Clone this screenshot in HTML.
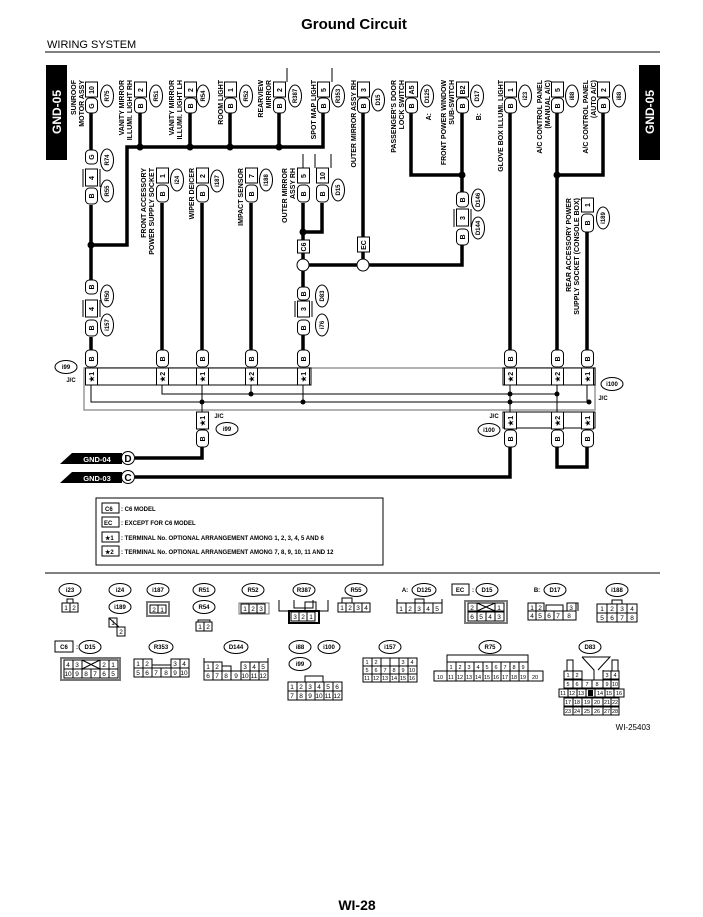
<!DOCTYPE html>
<html><head><meta charset="utf-8"><style>
html,body{margin:0;padding:0;background:#fff}
svg{display:block}
text{font-family:"Liberation Sans",Arial,sans-serif;fill:#000}
.t{font-size:7px;font-weight:bold}
.s{font-size:6px}
.c{font-size:6.5px;text-anchor:middle}
.w{fill:none;stroke:#000;stroke-width:3.5}
.l{fill:none;stroke:#000;stroke-width:1}
.p{fill:#fff;stroke:#000;stroke-width:1}
.g{fill:#fff;stroke:#777;stroke-width:2}
</style></head><body>
<svg width="703" height="917" viewBox="0 0 703 917" xmlns="http://www.w3.org/2000/svg">
<text x="354" y="29" style="font-size:15px;font-weight:bold" text-anchor="middle">Ground Circuit</text>
<text x="47" y="48" style="font-size:11px">WIRING SYSTEM</text>
<line x1="45" y1="52" x2="660" y2="52" class="l"/>
<rect x="46" y="65" width="21" height="95" fill="#000"/>
<text transform="translate(61,112) rotate(-90)" text-anchor="middle" style="font-size:12px;font-weight:bold;fill:#fff">GND-05</text>
<rect x="639" y="65" width="21" height="95" fill="#000"/>
<text transform="translate(654,112) rotate(-90)" text-anchor="middle" style="font-size:12px;font-weight:bold;fill:#fff">GND-05</text>

<path class="w" d="M91,113V150M91,205V280M91,337V352M140,113V147M190,113V147M230,113V147M279,113V147M323,113V147H127V245H91"/>
<path class="w" d="M162,203V352M202,203V352M251,203V352M303,203V240M322,203V232H303M303,253V259M303,271V287M303,335V352"/>
<path class="w" d="M363,113V237M363,252V259M309,265H357M369,265H462V245M411,113V175H462M462,113V192"/>
<path class="w" d="M510,113V352M557,113V352M603,113V175H557M587,232V352"/>
<path class="w" d="M202,447V458H135M510,447V477H135M557,447V467H587V447"/>
<g fill="#000"><circle cx="140" cy="147" r="3.5"/><circle cx="190" cy="147" r="3.5"/><circle cx="230" cy="147" r="3.5"/><circle cx="279" cy="147" r="3.5"/><circle cx="91" cy="245" r="3.5"/><circle cx="303" cy="232" r="3.5"/><circle cx="462" cy="175" r="3.5"/><circle cx="557" cy="175" r="3.5"/></g>
<circle cx="303" cy="265" r="6" class="p"/><circle cx="363" cy="265" r="6" class="p"/>

<g class="p">
<rect x="85.5" y="82" width="12" height="15"/><rect x="134.5" y="82" width="12" height="15"/><rect x="184.5" y="82" width="12" height="15"/><rect x="224.5" y="82" width="12" height="15"/><rect x="273.5" y="82" width="12" height="15"/><rect x="317.5" y="82" width="12" height="15"/><rect x="357.5" y="82" width="12" height="15"/><rect x="405.5" y="82" width="12" height="15"/><rect x="456.5" y="82" width="12" height="15"/><rect x="504.5" y="82" width="12" height="15"/><rect x="551.5" y="82" width="12" height="15"/><rect x="597.5" y="82" width="12" height="15"/>
<rect x="85.5" y="98" width="12" height="15" rx="4"/><rect x="134.5" y="98" width="12" height="15" rx="4"/><rect x="184.5" y="98" width="12" height="15" rx="4"/><rect x="224.5" y="98" width="12" height="15" rx="4"/><rect x="273.5" y="98" width="12" height="15" rx="4"/><rect x="317.5" y="98" width="12" height="15" rx="4"/><rect x="357.5" y="98" width="12" height="15" rx="4"/><rect x="405.5" y="98" width="12" height="15" rx="4"/><rect x="456.5" y="98" width="12" height="15" rx="4"/><rect x="504.5" y="98" width="12" height="15" rx="4"/><rect x="551.5" y="98" width="12" height="15" rx="4"/><rect x="597.5" y="98" width="12" height="15" rx="4"/>
<rect x="85.5" y="150" width="12" height="14" rx="4"/><rect x="85.5" y="169" width="12" height="17"/><rect x="85.5" y="188" width="12" height="16" rx="4"/>
<rect x="85.5" y="280" width="12" height="14" rx="4"/><rect x="85.5" y="300" width="12" height="17"/><rect x="85.5" y="320" width="12" height="16" rx="4"/>
<rect x="156.5" y="168" width="12" height="15"/><rect x="156.5" y="185" width="12" height="17" rx="4"/>
<rect x="196.5" y="168" width="12" height="15"/><rect x="196.5" y="185" width="12" height="17" rx="4"/>
<rect x="245.5" y="168" width="12" height="15"/><rect x="245.5" y="185" width="12" height="17" rx="4"/>
<rect x="297.5" y="168" width="12" height="15"/><rect x="297.5" y="185" width="12" height="17" rx="4"/>
<rect x="316.5" y="168" width="12" height="15"/><rect x="316.5" y="185" width="12" height="17" rx="4"/>
<rect x="297.5" y="240" width="12" height="13"/><rect x="357.5" y="237" width="12" height="15"/>
<rect x="297.5" y="287" width="12" height="13" rx="4"/><rect x="297.5" y="301" width="12" height="16"/><rect x="297.5" y="320" width="12" height="15" rx="4"/>
<rect x="456.5" y="192" width="12" height="15" rx="4"/><rect x="456.5" y="209" width="12" height="17"/><rect x="456.5" y="229" width="12" height="16" rx="4"/>
<rect x="581.5" y="198" width="12" height="14"/><rect x="581.5" y="214" width="12" height="18" rx="4"/>
<rect x="85.5" y="350" width="12" height="17" rx="4"/><rect x="156.5" y="350" width="12" height="17" rx="4"/><rect x="196.5" y="350" width="12" height="17" rx="4"/><rect x="245.5" y="350" width="12" height="17" rx="4"/><rect x="297.5" y="350" width="12" height="17" rx="4"/><rect x="504.5" y="350" width="12" height="17" rx="4"/><rect x="551.5" y="350" width="12" height="17" rx="4"/><rect x="581.5" y="350" width="12" height="17" rx="4"/>
</g>
<path class="l" d="M83,169V187M100,169V187M83,300V317M100,300V317M295,301V317M312,301V317M454,209V227M471,209V227M287,82V68M332,82V68M315,168V154M331,168V154M303,168V154"/>

<rect x="84" y="368" width="511" height="42" fill="none" stroke="#999" stroke-width="1.5"/>
<rect x="86" y="368" width="225" height="17" class="p"/>
<rect x="503" y="368" width="92" height="17" class="p"/>
<g class="p"><rect x="85.5" y="368" width="12" height="17"/><rect x="156.5" y="368" width="12" height="17"/><rect x="196.5" y="368" width="12" height="17"/><rect x="245.5" y="368" width="12" height="17"/><rect x="297.5" y="368" width="12" height="17"/><rect x="504.5" y="368" width="12" height="17"/><rect x="551.5" y="368" width="12" height="17"/><rect x="581.5" y="368" width="12" height="17"/></g>
<path class="l" d="M91,385V402H589M162,385V394H557M202,385V413M251,385V394M303,385V402M510,385V413M557,385V413M587,385V402"/>
<g fill="#000"><circle cx="251" cy="394" r="2.5"/><circle cx="510" cy="394" r="2.5"/><circle cx="557" cy="394" r="2.5"/><circle cx="202" cy="402" r="2.5"/><circle cx="303" cy="402" r="2.5"/><circle cx="510" cy="402" r="2.5"/><circle cx="589" cy="402" r="2.5"/></g>
<rect x="503" y="412" width="92" height="16" class="p"/>
<g class="p"><rect x="196.5" y="412" width="12" height="17"/><rect x="504.5" y="412" width="12" height="17"/><rect x="551.5" y="412" width="12" height="17"/><rect x="581.5" y="412" width="12" height="17"/>
<rect x="196.5" y="430" width="12" height="17" rx="4"/><rect x="504.5" y="430" width="12" height="17" rx="4"/><rect x="551.5" y="430" width="12" height="17" rx="4"/><rect x="581.5" y="430" width="12" height="17" rx="4"/></g>

<g class="t" text-anchor="middle">
<text transform="translate(94,90) rotate(-90)">10</text><text transform="translate(94,106) rotate(-90)">G</text>
<text transform="translate(143,90) rotate(-90)">2</text><text transform="translate(143,106) rotate(-90)">B</text>
<text transform="translate(193,90) rotate(-90)">2</text><text transform="translate(193,106) rotate(-90)">B</text>
<text transform="translate(233,90) rotate(-90)">1</text><text transform="translate(233,106) rotate(-90)">B</text>
<text transform="translate(282,90) rotate(-90)">2</text><text transform="translate(282,106) rotate(-90)">B</text>
<text transform="translate(326,90) rotate(-90)">5</text><text transform="translate(326,106) rotate(-90)">B</text>
<text transform="translate(366,90) rotate(-90)">3</text><text transform="translate(366,106) rotate(-90)">B</text>
<text transform="translate(414,90) rotate(-90)">A5</text><text transform="translate(414,106) rotate(-90)">B</text>
<text transform="translate(465,90) rotate(-90)">B2</text><text transform="translate(465,106) rotate(-90)">B</text>
<text transform="translate(513,90) rotate(-90)">1</text><text transform="translate(513,106) rotate(-90)">B</text>
<text transform="translate(560,90) rotate(-90)">5</text><text transform="translate(560,106) rotate(-90)">B</text>
<text transform="translate(606,90) rotate(-90)">2</text><text transform="translate(606,106) rotate(-90)">B</text>
<text transform="translate(94,157) rotate(-90)">G</text><text transform="translate(94,178) rotate(-90)">4</text><text transform="translate(94,196) rotate(-90)">B</text>
<text transform="translate(94,287) rotate(-90)">B</text><text transform="translate(94,309) rotate(-90)">4</text><text transform="translate(94,328) rotate(-90)">B</text>
<text transform="translate(165,176) rotate(-90)">1</text><text transform="translate(165,194) rotate(-90)">B</text>
<text transform="translate(205,176) rotate(-90)">2</text><text transform="translate(205,194) rotate(-90)">B</text>
<text transform="translate(254,176) rotate(-90)">7</text><text transform="translate(254,194) rotate(-90)">B</text>
<text transform="translate(306,176) rotate(-90)">5</text><text transform="translate(306,194) rotate(-90)">B</text>
<text transform="translate(325,176) rotate(-90)">10</text><text transform="translate(325,194) rotate(-90)">B</text>
<text transform="translate(306,247) rotate(-90)">C6</text><text transform="translate(366,245) rotate(-90)">EC</text>
<text transform="translate(306,294) rotate(-90)">B</text><text transform="translate(306,309) rotate(-90)">3</text><text transform="translate(306,328) rotate(-90)">B</text>
<text transform="translate(465,200) rotate(-90)">B</text><text transform="translate(465,218) rotate(-90)">3</text><text transform="translate(465,237) rotate(-90)">B</text>
<text transform="translate(590,205) rotate(-90)">1</text><text transform="translate(590,223) rotate(-90)">B</text>
<text transform="translate(94,359) rotate(-90)">B</text><text transform="translate(165,359) rotate(-90)">B</text><text transform="translate(205,359) rotate(-90)">B</text><text transform="translate(254,359) rotate(-90)">B</text><text transform="translate(306,359) rotate(-90)">B</text><text transform="translate(513,359) rotate(-90)">B</text><text transform="translate(560,359) rotate(-90)">B</text><text transform="translate(590,359) rotate(-90)">B</text>
<text transform="translate(94,377) rotate(-90)">★1</text><text transform="translate(165,377) rotate(-90)">★2</text><text transform="translate(205,377) rotate(-90)">★1</text><text transform="translate(254,377) rotate(-90)">★2</text><text transform="translate(306,377) rotate(-90)">★1</text><text transform="translate(513,377) rotate(-90)">★2</text><text transform="translate(560,377) rotate(-90)">★2</text><text transform="translate(590,377) rotate(-90)">★1</text>
<text transform="translate(205,421) rotate(-90)">★1</text><text transform="translate(513,421) rotate(-90)">★1</text><text transform="translate(560,421) rotate(-90)">★2</text><text transform="translate(590,421) rotate(-90)">★1</text>
<text transform="translate(205,439) rotate(-90)">B</text><text transform="translate(513,439) rotate(-90)">B</text><text transform="translate(560,439) rotate(-90)">B</text><text transform="translate(590,439) rotate(-90)">B</text>
</g>

<g class="p">
<ellipse cx="107" cy="96" rx="6.5" ry="11"/><ellipse cx="156" cy="96" rx="6.5" ry="11"/><ellipse cx="203" cy="96" rx="6.5" ry="11"/><ellipse cx="246" cy="96" rx="6.5" ry="11"/><ellipse cx="295" cy="96" rx="6.5" ry="11"/><ellipse cx="338" cy="96" rx="6.5" ry="11"/><ellipse cx="378" cy="100" rx="6.5" ry="11"/><ellipse cx="427" cy="96" rx="6.5" ry="11"/><ellipse cx="477" cy="96" rx="6.5" ry="11"/><ellipse cx="525" cy="96" rx="6.5" ry="11"/><ellipse cx="572" cy="96" rx="6.5" ry="11"/><ellipse cx="619" cy="96" rx="6.5" ry="11"/>
<ellipse cx="107" cy="160" rx="6.5" ry="11"/><ellipse cx="107" cy="191" rx="6.5" ry="11"/><ellipse cx="107" cy="296" rx="6.5" ry="11"/><ellipse cx="107" cy="325" rx="6.5" ry="11"/>
<ellipse cx="177" cy="180" rx="6.5" ry="11"/><ellipse cx="217" cy="181" rx="6.5" ry="11"/><ellipse cx="266" cy="180" rx="6.5" ry="11"/><ellipse cx="338" cy="190" rx="6.5" ry="11"/><ellipse cx="322" cy="296" rx="6.5" ry="11"/><ellipse cx="322" cy="325" rx="6.5" ry="11"/>
<ellipse cx="478" cy="200" rx="6.5" ry="11"/><ellipse cx="478" cy="228" rx="6.5" ry="11"/><ellipse cx="603" cy="218" rx="6.5" ry="11"/>
<ellipse cx="66" cy="367" rx="11" ry="6.5"/><ellipse cx="612" cy="384" rx="11" ry="6.5"/><ellipse cx="227" cy="429" rx="11" ry="6.5"/><ellipse cx="489" cy="430" rx="11" ry="6.5"/>
</g>
<g class="s" text-anchor="middle" font-weight="bold">
<text transform="translate(109,96) rotate(-90)">R75</text><text transform="translate(158,96) rotate(-90)">R51</text><text transform="translate(205,96) rotate(-90)">R54</text><text transform="translate(248,96) rotate(-90)">R52</text><text transform="translate(297,96) rotate(-90)">R387</text><text transform="translate(340,96) rotate(-90)">R353</text><text transform="translate(380,100) rotate(-90)">D15</text><text transform="translate(429,96) rotate(-90)">D125</text><text transform="translate(479,96) rotate(-90)">D17</text><text transform="translate(527,96) rotate(-90)">i23</text><text transform="translate(574,96) rotate(-90)">i88</text><text transform="translate(621,96) rotate(-90)">i88</text>
<text transform="translate(109,160) rotate(-90)">R74</text><text transform="translate(109,191) rotate(-90)">R55</text><text transform="translate(109,296) rotate(-90)">R50</text><text transform="translate(109,325) rotate(-90)">i157</text>
<text transform="translate(179,180) rotate(-90)">i24</text><text transform="translate(219,181) rotate(-90)">i187</text><text transform="translate(268,180) rotate(-90)">i188</text><text transform="translate(340,190) rotate(-90)">D15</text><text transform="translate(324,296) rotate(-90)">D83</text><text transform="translate(324,325) rotate(-90)">i76</text>
<text transform="translate(480,200) rotate(-90)">D146</text><text transform="translate(480,228) rotate(-90)">D144</text><text transform="translate(605,218) rotate(-90)">i189</text>
<text x="66" y="369">i99</text><text x="612" y="386">i100</text><text x="227" y="431">i99</text><text x="489" y="432">i100</text>
<text x="71" y="382">J/C</text><text x="603" y="400">J/C</text><text x="219" y="418">J/C</text><text x="494" y="418">J/C</text>
</g>

<g class="t" text-anchor="end">
<text transform="translate(76,80) rotate(-90)">SUNROOF</text><text transform="translate(84,80) rotate(-90)">MOTOR ASSY</text>
<text transform="translate(124,80) rotate(-90)">VANITY MIRROR</text><text transform="translate(132,80) rotate(-90)">ILLUMI. LIGHT RH</text>
<text transform="translate(174,80) rotate(-90)">VANITY MIRROR</text><text transform="translate(182,80) rotate(-90)">ILLUMI. LIGHT LH</text>
<text transform="translate(223,80) rotate(-90)">ROOM LIGHT</text>
<text transform="translate(263,80) rotate(-90)">REARVIEW</text><text transform="translate(271,80) rotate(-90)">MIRROR</text>
<text transform="translate(316,80) rotate(-90)">SPOT MAP LIGHT</text>
<text transform="translate(356,80) rotate(-90)">OUTER MIRROR ASSY RH</text>
<text transform="translate(396,80) rotate(-90)">PASSENGER'S DOOR</text><text transform="translate(404,80) rotate(-90)">LOCK SWITCH</text>
<text transform="translate(446,80) rotate(-90)">FRONT POWER WINDOW</text><text transform="translate(454,80) rotate(-90)">SUB-SWITCH</text>
<text transform="translate(503,80) rotate(-90)">GLOVE BOX ILLUMI. LIGHT</text>
<text transform="translate(542,80) rotate(-90)">A/C CONTROL PANEL</text><text transform="translate(550,80) rotate(-90)">(MANUAL A/C)</text>
<text transform="translate(588,80) rotate(-90)">A/C CONTROL PANEL</text><text transform="translate(596,80) rotate(-90)">(AUTO A/C)</text>
<text transform="translate(146,168) rotate(-90)">FRONT ACCESSORY</text><text transform="translate(154,168) rotate(-90)">POWER SUPPLY SOCKET</text>
<text transform="translate(194,168) rotate(-90)">WIPER DEICER</text>
<text transform="translate(243,168) rotate(-90)">IMPACT SENSOR</text>
<text transform="translate(287,168) rotate(-90)">OUTER MIRROR</text><text transform="translate(295,168) rotate(-90)">ASSY RH</text>
<text transform="translate(571,198) rotate(-90)">REAR ACCESSORY POWER</text><text transform="translate(579,198) rotate(-90)">SUPPLY SOCKET (CONSOLE BOX)</text>
<text transform="translate(431,113) rotate(-90)">A:</text><text transform="translate(481,113) rotate(-90)">B:</text>
</g>

<polygon points="60,464 72,453 122,453 122,464" fill="#000"/>
<text x="97" y="462" text-anchor="middle" style="font-size:7.5px;font-weight:bold;fill:#fff">GND-04</text>
<circle cx="128" cy="458" r="6.5" class="p"/><text x="128" y="462" text-anchor="middle" style="font-size:10px;font-weight:bold">D</text>
<polygon points="60,483 72,472 122,472 122,483" fill="#000"/>
<text x="97" y="481" text-anchor="middle" style="font-size:7.5px;font-weight:bold;fill:#fff">GND-03</text>
<circle cx="128" cy="477" r="6.5" class="p"/><text x="128" y="481" text-anchor="middle" style="font-size:10px;font-weight:bold">C</text>

<rect x="96" y="498" width="287" height="67" class="l"/>
<g class="p"><rect x="102" y="503" width="17" height="10"/><rect x="102" y="517" width="17" height="10"/><rect x="102" y="532" width="17" height="10"/><rect x="102" y="546" width="17" height="10"/></g>
<g class="s" font-weight="bold">
<text x="105" y="511">C6</text><text x="104" y="525">EC</text><text x="105" y="540">★1</text><text x="105" y="554">★2</text>
<text x="121" y="511">: C6 MODEL</text><text x="121" y="525">: EXCEPT FOR C6 MODEL</text>
<text x="121" y="540">: TERMINAL No. OPTIONAL ARRANGEMENT AMONG 1, 2, 3, 4, 5 AND 6</text>
<text x="121" y="554">: TERMINAL No. OPTIONAL ARRANGEMENT AMONG 7, 8, 9, 10, 11 AND 12</text>
</g>
<line x1="45" y1="573" x2="660" y2="573" class="l"/>

<g class="p">
<ellipse cx="70" cy="590" rx="11" ry="6.5"/><ellipse cx="120" cy="590" rx="11" ry="6.5"/><ellipse cx="120" cy="607" rx="11" ry="6.5"/><ellipse cx="158" cy="590" rx="11" ry="6.5"/><ellipse cx="204" cy="590" rx="11" ry="6.5"/><ellipse cx="204" cy="607" rx="11" ry="6.5"/><ellipse cx="253" cy="590" rx="11" ry="6.5"/><ellipse cx="304" cy="590" rx="11" ry="6.5"/><ellipse cx="356" cy="590" rx="11" ry="6.5"/><ellipse cx="424" cy="590" rx="12" ry="6.5"/><ellipse cx="487" cy="590" rx="11" ry="6.5"/><ellipse cx="555" cy="590" rx="11" ry="6.5"/><ellipse cx="617" cy="590" rx="11" ry="6.5"/>
<ellipse cx="90" cy="647" rx="11" ry="6.5"/><ellipse cx="161" cy="647" rx="12" ry="6.5"/><ellipse cx="236" cy="647" rx="12" ry="6.5"/><ellipse cx="300" cy="647" rx="11" ry="6.5"/><ellipse cx="329" cy="647" rx="11" ry="6.5"/><ellipse cx="300" cy="664" rx="11" ry="6.5"/><ellipse cx="390" cy="647" rx="11" ry="6.5"/><ellipse cx="490" cy="647" rx="11" ry="6.5"/><ellipse cx="590" cy="647" rx="11" ry="6.5"/>
<rect x="55" y="641" width="18" height="11"/><rect x="452" y="584" width="17" height="11"/>
</g>
<g class="s" font-weight="bold" text-anchor="middle">
<text x="70" y="592">i23</text><text x="120" y="592">i24</text><text x="120" y="609">i189</text><text x="158" y="592">i187</text><text x="204" y="592">R51</text><text x="204" y="609">R54</text><text x="253" y="592">R52</text><text x="304" y="592">R387</text><text x="356" y="592">R55</text><text x="424" y="592">D125</text><text x="487" y="592">D15</text><text x="555" y="592">D17</text><text x="617" y="592">i188</text>
<text x="90" y="649">D15</text><text x="161" y="649">R353</text><text x="236" y="649">D144</text><text x="300" y="649">i88</text><text x="329" y="649">i100</text><text x="300" y="666">i99</text><text x="390" y="649">i157</text><text x="490" y="649">R75</text><text x="590" y="649">D83</text>
<text x="64" y="649">C6</text><text x="460" y="592">EC</text><text x="77" y="649">:</text><text x="473" y="592">:</text><text x="405" y="592">A:</text><text x="537" y="592">B:</text>
</g>

<g class="p">
<rect x="62" y="603" width="8" height="9"/><rect x="70" y="603" width="8" height="9"/>
<rect x="109" y="618" width="8" height="9"/><rect x="117" y="627" width="8" height="9"/>
<rect x="147" y="602" width="22" height="14" stroke="#777" stroke-width="2"/><rect x="150" y="605" width="8" height="8"/><rect x="158" y="605" width="8" height="8"/>
<rect x="196" y="622" width="8" height="9"/><rect x="204" y="622" width="8" height="9"/>
<rect x="239" y="603" width="30" height="11" stroke="#777"/><rect x="241" y="604" width="8" height="9"/><rect x="249" y="604" width="8" height="9"/><rect x="257" y="604" width="8" height="9"/>
<rect x="289" y="611" width="30" height="12" stroke-width="2"/><rect x="291" y="612" width="8" height="9"/><rect x="299" y="612" width="8" height="9"/><rect x="307" y="612" width="8" height="9"/>
<rect x="338" y="603" width="8" height="9"/><rect x="346" y="603" width="8" height="9"/><rect x="354" y="603" width="8" height="9"/><rect x="362" y="603" width="8" height="9"/>
<rect x="397" y="603" width="9" height="10"/><rect x="406" y="603" width="9" height="10"/><rect x="415" y="603" width="9" height="10"/><rect x="424" y="603" width="9" height="10"/><rect x="433" y="603" width="9" height="10"/>
<rect x="465" y="601" width="42" height="22" stroke="#777" stroke-width="2"/>
<rect x="468" y="603" width="9" height="8"/><rect x="477" y="603" width="18" height="8"/><rect x="495" y="603" width="9" height="8"/>
<rect x="468" y="612" width="9" height="9"/><rect x="477" y="612" width="9" height="9"/><rect x="486" y="612" width="9" height="9"/><rect x="495" y="612" width="9" height="9"/>
<rect x="528" y="603" width="8" height="8"/><rect x="536" y="603" width="8" height="8"/><rect x="567" y="603" width="9" height="8"/>
<rect x="528" y="611" width="8" height="9"/><rect x="536" y="611" width="9" height="9"/><rect x="545" y="611" width="9" height="9"/><rect x="554" y="611" width="9" height="9"/><rect x="563" y="611" width="13" height="9"/>
<rect x="597" y="604" width="10" height="9"/><rect x="607" y="604" width="10" height="9"/><rect x="617" y="604" width="10" height="9"/><rect x="627" y="604" width="10" height="9"/>
<rect x="597" y="613" width="10" height="9"/><rect x="607" y="613" width="10" height="9"/><rect x="617" y="613" width="10" height="9"/><rect x="627" y="613" width="10" height="9"/>
<rect x="61" y="658" width="59" height="22" stroke="#777" stroke-width="2"/>
<rect x="64" y="660" width="9" height="9"/><rect x="73" y="660" width="9" height="9"/><rect x="82" y="660" width="18" height="9"/><rect x="100" y="660" width="9" height="9"/><rect x="109" y="660" width="9" height="9"/>
<rect x="64" y="669" width="9" height="9"/><rect x="73" y="669" width="9" height="9"/><rect x="82" y="669" width="9" height="9"/><rect x="91" y="669" width="9" height="9"/><rect x="100" y="669" width="9" height="9"/><rect x="109" y="669" width="9" height="9"/>
<rect x="134" y="659" width="9" height="9"/><rect x="143" y="659" width="9" height="9"/><rect x="171" y="659" width="9" height="9"/><rect x="180" y="659" width="9" height="9"/>
<rect x="134" y="668" width="9" height="9"/><rect x="143" y="668" width="9" height="9"/><rect x="152" y="668" width="9" height="9"/><rect x="161" y="668" width="10" height="9"/><rect x="171" y="668" width="9" height="9"/><rect x="180" y="668" width="9" height="9"/>
<rect x="204" y="662" width="9" height="9"/><rect x="213" y="662" width="9" height="9"/><rect x="241" y="662" width="9" height="9"/><rect x="250" y="662" width="9" height="9"/><rect x="259" y="662" width="9" height="9"/>
<rect x="204" y="671" width="9" height="9"/><rect x="213" y="671" width="9" height="9"/><rect x="222" y="671" width="9" height="9"/><rect x="231" y="671" width="10" height="9"/><rect x="241" y="671" width="9" height="9"/><rect x="250" y="671" width="9" height="9"/><rect x="259" y="671" width="9" height="9"/>
<rect x="288" y="682" width="9" height="9"/><rect x="297" y="682" width="9" height="9"/><rect x="306" y="682" width="9" height="9"/><rect x="315" y="682" width="9" height="9"/><rect x="324" y="682" width="9" height="9"/><rect x="333" y="682" width="9" height="9"/>
<rect x="288" y="691" width="9" height="9"/><rect x="297" y="691" width="9" height="9"/><rect x="306" y="691" width="9" height="9"/><rect x="315" y="691" width="9" height="9"/><rect x="324" y="691" width="9" height="9"/><rect x="333" y="691" width="9" height="9"/>
<rect x="363" y="658" width="9" height="8"/><rect x="372" y="658" width="9" height="8"/><rect x="390" y="658" width="9" height="8"/><rect x="399" y="658" width="9" height="8"/><rect x="408" y="658" width="9" height="8"/>
<rect x="363" y="666" width="9" height="8"/><rect x="372" y="666" width="9" height="8"/><rect x="381" y="666" width="9" height="8"/><rect x="390" y="666" width="9" height="8"/><rect x="399" y="666" width="9" height="8"/><rect x="408" y="666" width="9" height="8"/>
<rect x="363" y="674" width="9" height="8"/><rect x="372" y="674" width="9" height="8"/><rect x="381" y="674" width="9" height="8"/><rect x="390" y="674" width="9" height="8"/><rect x="399" y="674" width="9" height="8"/><rect x="408" y="674" width="9" height="8"/>
<rect x="447" y="662" width="9" height="9"/><rect x="456" y="662" width="9" height="9"/><rect x="465" y="662" width="9" height="9"/><rect x="474" y="662" width="9" height="9"/><rect x="483" y="662" width="9" height="9"/><rect x="492" y="662" width="9" height="9"/><rect x="501" y="662" width="9" height="9"/><rect x="510" y="662" width="9" height="9"/><rect x="519" y="662" width="9" height="9"/>
<rect x="434" y="671" width="13" height="10"/><rect x="447" y="671" width="9" height="10"/><rect x="456" y="671" width="9" height="10"/><rect x="465" y="671" width="9" height="10"/><rect x="474" y="671" width="9" height="10"/><rect x="483" y="671" width="9" height="10"/><rect x="492" y="671" width="9" height="10"/><rect x="501" y="671" width="9" height="10"/><rect x="510" y="671" width="9" height="10"/><rect x="519" y="671" width="9" height="10"/><rect x="528" y="671" width="15" height="10"/>
<rect x="564" y="671" width="9" height="8"/><rect x="573" y="671" width="9" height="8"/><rect x="603" y="671" width="8" height="8"/><rect x="611" y="671" width="8" height="8"/>
<rect x="564" y="680" width="9" height="8"/><rect x="573" y="680" width="9" height="8"/><rect x="582" y="680" width="10" height="8"/><rect x="592" y="680" width="11" height="8"/><rect x="603" y="680" width="8" height="8"/><rect x="611" y="680" width="8" height="8"/>
<rect x="559" y="689" width="9" height="8"/><rect x="568" y="689" width="9" height="8"/><rect x="577" y="689" width="9" height="8"/><rect x="586" y="689" width="9" height="8"/><rect x="595" y="689" width="10" height="8"/><rect x="605" y="689" width="9" height="8"/><rect x="614" y="689" width="10" height="8"/>
<rect x="564" y="698" width="9" height="8"/><rect x="573" y="698" width="9" height="8"/><rect x="582" y="698" width="10" height="8"/><rect x="592" y="698" width="11" height="8"/><rect x="603" y="698" width="8" height="8"/><rect x="611" y="698" width="8" height="8"/>
<rect x="564" y="707" width="9" height="8"/><rect x="573" y="707" width="9" height="8"/><rect x="582" y="707" width="10" height="8"/><rect x="592" y="707" width="11" height="8"/><rect x="603" y="707" width="8" height="8"/><rect x="611" y="707" width="8" height="8"/>
</g>
<rect x="588" y="690" width="5" height="6" fill="#000"/>
<path class="l" d="M67,603V599H73V603M198,622V620H210V622M279,600V611H328V600M294,600V608H313V600M316,612V602H305V612M342,603V598H352V603M397,603V599M442,603V599M415,603V599H424V603M546,611V605H563V611M578,611V603H576M612,604V600H622V604M152,659V665H171V659M222,671V666H231V671M204,662V658M268,662V658M305,682V676H323V682M381,658V666M390,658H381M447,662V655H528V662M582,657L594,670V680M598,670L610,657H582M603,670V680M567,671V660H573V671M612,671V660H618V671"/>
<path class="l" d="M477,603L495,611M477,611L495,603M82,660L100,669M82,669L100,660M109,627H117M109,618L119,627"/>
<g class="c">
<text x="66" y="610">1</text><text x="74" y="610">2</text>
<text x="113" y="625">1</text><text x="121" y="634">2</text>
<text x="154" y="612">2</text><text x="162" y="612">1</text>
<text x="200" y="629">1</text><text x="208" y="629">2</text>
<text x="245" y="611">1</text><text x="253" y="611">2</text><text x="261" y="611">3</text>
<text x="295" y="619">3</text><text x="303" y="619">2</text><text x="311" y="619">1</text>
<text x="342" y="610">1</text><text x="350" y="610">2</text><text x="358" y="610">3</text><text x="366" y="610">4</text>
<text x="401" y="611">1</text><text x="410" y="611">2</text><text x="419" y="611">3</text><text x="428" y="611">4</text><text x="437" y="611">5</text>
<text x="472" y="610">2</text><text x="499" y="610">1</text><text x="472" y="619">6</text><text x="481" y="619">5</text><text x="490" y="619">4</text><text x="499" y="619">3</text>
<text x="532" y="610">1</text><text x="540" y="610">2</text><text x="571" y="610">3</text><text x="532" y="618">4</text><text x="540" y="618">5</text><text x="549" y="618">6</text><text x="558" y="618">7</text><text x="569" y="618">8</text>
<text x="602" y="611">1</text><text x="612" y="611">2</text><text x="622" y="611">3</text><text x="632" y="611">4</text><text x="602" y="620">5</text><text x="612" y="620">6</text><text x="622" y="620">7</text><text x="632" y="620">8</text>
<text x="68" y="667">4</text><text x="77" y="667">3</text><text x="104" y="667">2</text><text x="113" y="667">1</text>
<text x="68" y="676">10</text><text x="77" y="676">9</text><text x="86" y="676">8</text><text x="95" y="676">7</text><text x="104" y="676">6</text><text x="113" y="676">5</text>
<text x="138" y="666">1</text><text x="147" y="666">2</text><text x="175" y="666">3</text><text x="184" y="666">4</text>
<text x="138" y="675">5</text><text x="147" y="675">6</text><text x="156" y="675">7</text><text x="166" y="675">8</text><text x="175" y="675">9</text><text x="184" y="675">10</text>
<text x="208" y="669">1</text><text x="217" y="669">2</text><text x="245" y="669">3</text><text x="254" y="669">4</text><text x="263" y="669">5</text>
<text x="208" y="678">6</text><text x="217" y="678">7</text><text x="226" y="678">8</text><text x="236" y="678">9</text><text x="245" y="678">10</text><text x="254" y="678">11</text><text x="263" y="678">12</text>
<text x="292" y="689">1</text><text x="301" y="689">2</text><text x="310" y="689">3</text><text x="319" y="689">4</text><text x="328" y="689">5</text><text x="337" y="689">6</text>
<text x="292" y="698">7</text><text x="301" y="698">8</text><text x="310" y="698">9</text><text x="319" y="698">10</text><text x="328" y="698">11</text><text x="337" y="698">12</text>
</g>
<g class="c" style="font-size:5.5px">
<text x="367" y="664">1</text><text x="376" y="664">2</text><text x="403" y="664">3</text><text x="412" y="664">4</text>
<text x="367" y="672">5</text><text x="376" y="672">6</text><text x="385" y="672">7</text><text x="394" y="672">8</text><text x="403" y="672">9</text><text x="412" y="672">10</text>
<text x="367" y="680">11</text><text x="376" y="680">12</text><text x="385" y="680">13</text><text x="394" y="680">14</text><text x="403" y="680">15</text><text x="412" y="680">16</text>
<text x="451" y="669">1</text><text x="460" y="669">2</text><text x="469" y="669">3</text><text x="478" y="669">4</text><text x="487" y="669">5</text><text x="496" y="669">6</text><text x="505" y="669">7</text><text x="514" y="669">8</text><text x="523" y="669">9</text>
<text x="440" y="679">10</text><text x="451" y="679">11</text><text x="460" y="679">12</text><text x="469" y="679">13</text><text x="478" y="679">14</text><text x="487" y="679">15</text><text x="496" y="679">16</text><text x="505" y="679">17</text><text x="514" y="679">18</text><text x="523" y="679">19</text><text x="535" y="679">20</text>
<text x="568" y="677">1</text><text x="577" y="677">2</text><text x="607" y="677">3</text><text x="615" y="677">4</text>
<text x="568" y="686">5</text><text x="577" y="686">6</text><text x="587" y="686">7</text><text x="597" y="686">8</text><text x="607" y="686">9</text><text x="615" y="686">10</text>
<text x="563" y="695">11</text><text x="572" y="695">12</text><text x="581" y="695">13</text><text x="600" y="695">14</text><text x="609" y="695">15</text><text x="619" y="695">16</text>
<text x="568" y="704">17</text><text x="577" y="704">18</text><text x="587" y="704">19</text><text x="597" y="704">20</text><text x="607" y="704">21</text><text x="615" y="704">22</text>
<text x="568" y="713">23</text><text x="577" y="713">24</text><text x="587" y="713">25</text><text x="597" y="713">26</text><text x="607" y="713">27</text><text x="615" y="713">28</text>
</g>
<text x="633" y="730" text-anchor="middle" style="font-size:8px">WI-25403</text>
<text x="357" y="910" text-anchor="middle" style="font-size:14px;font-weight:bold">WI-28</text>
</svg>
</body></html>
